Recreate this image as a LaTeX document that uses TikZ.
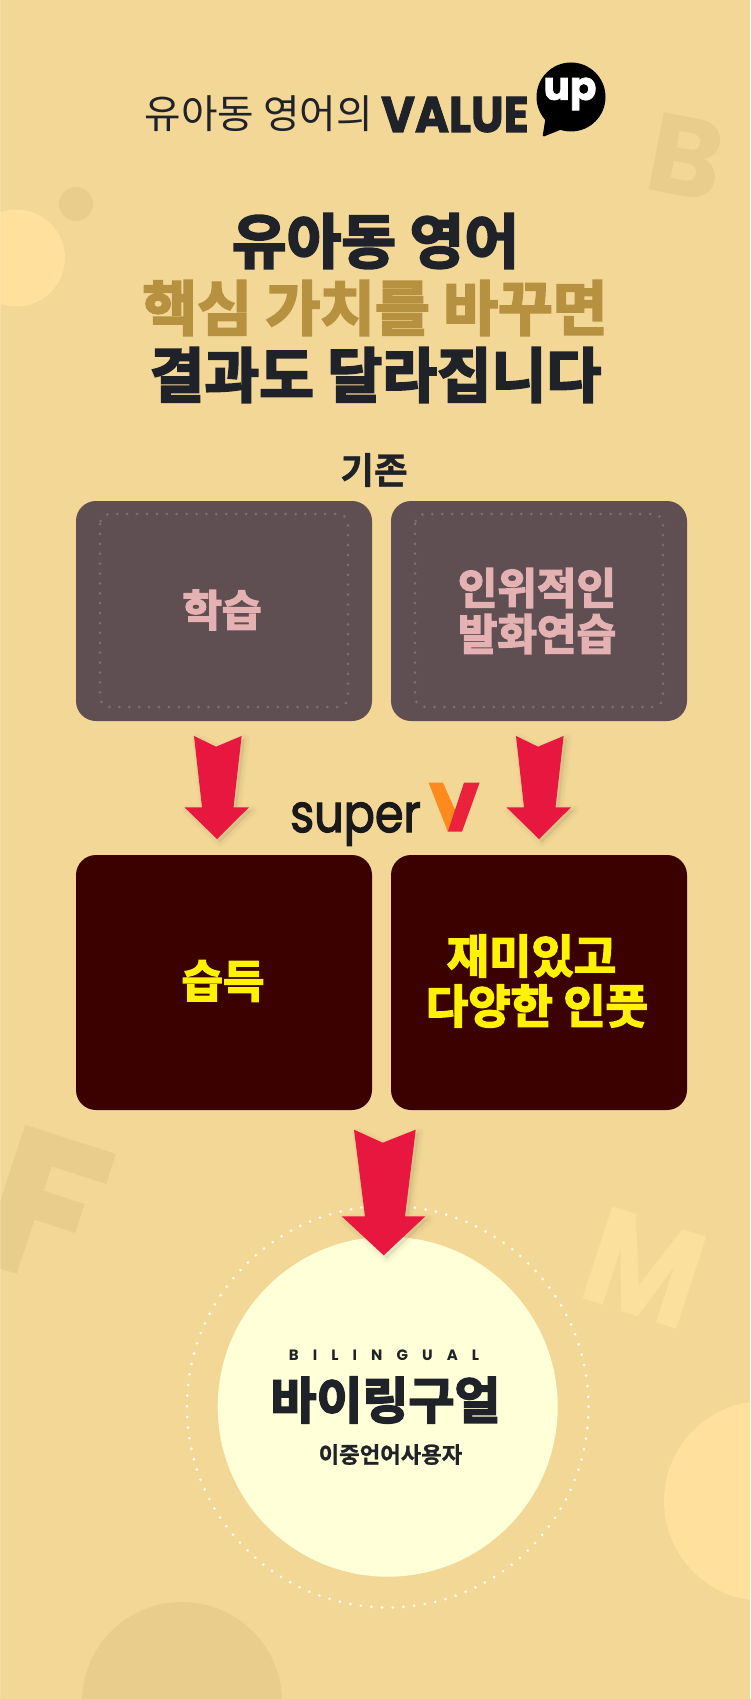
\documentclass[tikz,border=0pt]{standalone}
\usepackage{fontspec}
\setmainfont{Noto Sans CJK KR}
\newfontfamily\krreg{Noto Sans CJK KR}
\newfontfamily\krbold{Noto Sans CJK KR Bold}[FakeBold=3.5]
\newfontfamily\krmed{Noto Sans CJK KR Bold}[FakeBold=1]
\newfontfamily\popb{Poppins Bold}
\newfontfamily\popbb{Poppins Bold}[FakeBold=2]
\newfontfamily\popr{Poppins}[FakeBold=2.5]
\newfontfamily\popspaced{Poppins Bold}[LetterSpace=94]
\newcommand{\fsz}[1]{\fontsize{#1}{#1}\selectfont}
\definecolor{bgc}{HTML}{F3D797}
\definecolor{lightc}{HTML}{FFE09C}
\definecolor{mlightc}{HTML}{FBDF9C}
\definecolor{decoc}{HTML}{E8CD8C}
\definecolor{inkc}{HTML}{202229}
\definecolor{goldc}{HTML}{B59140}
\definecolor{greybox}{HTML}{5F4E52}
\definecolor{greydot}{HTML}{7E6E71}
\definecolor{darkbox}{HTML}{3B0000}
\definecolor{pinkc}{HTML}{E5B2B4}
\definecolor{redc}{HTML}{E8173F}
\definecolor{creamc}{HTML}{FFFFD8}
\definecolor{orangec}{HTML}{FC8A1E}
\newcommand{\smallpoly}{(-23,-103)--(-1,-92.3)--(24.6,-103)--(16.5,-31.7)--(32,-31.7)--(0,0)--(-32.5,-31.7)--(-15,-31.7)--cycle}
\newcommand{\bigpoly}{(-29.7,-125.6)--(-1,-112.6)--(32,-125.6)--(21.3,-39)--(41.6,-39)--(0,0)--(-42,-39)--(-18.7,-39)--cycle}
\tikzset{
  x=1pt,y=-1pt,
  boxshape/.style={rectangle,rounded corners=20pt,minimum width=296pt,inner sep=0pt,align=center},
  oldbox/.style={boxshape,fill=greybox,minimum height=220pt},
  newbox/.style={boxshape,fill=darkbox,minimum height=255pt},
  headline/.style={inner sep=0pt,font=\krbold\fsz{59.5}},
  insetdots/.style={greydot,line width=3pt,line cap=round,dash pattern=on 0pt off 9.9pt,rounded corners=10pt},
  softshade/.style={draw=black!70!bgc,fill=black!70!bgc,opacity=.018,line join=round,xshift=3pt,yshift=-3pt,line width=#1},
  smallarrow/.pic={\foreach \w in {11,8,5,2}{\path[softshade=\w pt] \smallpoly;}\fill[redc] \smallpoly;},
  bigarrow/.pic={\foreach \w in {11,8,5,2}{\path[softshade=\w pt] \bigpoly;}\fill[redc] \bigpoly;},
}
\begin{document}
\begin{tikzpicture}
\useasboundingbox (0,0) rectangle (750,1699);
\clip (0,0) rectangle (750,1699);
\fill[bgc] (0,0) rectangle (750,1699);
% decoration
\fill[lightc] (16.5,258) circle[radius=48.5];
\fill[decoc] (76,204) circle[radius=17];
\fill[decoc] (182,1702) circle[radius=100];
\fill[lightc] (764,1501) circle[radius=100];
\node (letterB) [rotate=-11,text=decoc,inner sep=0pt,font=\popb\fsz{112}] at (686,157) {B};
\node (letterF) [rotate=-18,text=decoc,inner sep=0pt,font=\popbb\fsz{200}] at (45,1207) {F};
\node (letterM) [rotate=-18,xscale=.9,text=mlightc,inner sep=0pt,font=\popb\fsz{138}] at (645,1268) {M};
% heading
\node (kicker) [anchor=base west,inner sep=0pt,text=inkc,font=\krreg\fsz{39.7}] at (144.5,129) {유아동 영어의};
\node (value) [anchor=base west,inner sep=0pt,text=inkc,font=\popbb\fsz{50},xscale=.925] at (381,132) {VALUE};
\fill[black] (571,97) circle[radius=34.5];
\fill[black,rounded corners=1.5pt] (546,115) -- (542.5,137) -- (565,128) -- cycle;
\node (up) [text=white,inner sep=0pt,font=\popbb\fsz{39}] at (570,94) {up};
\node (h1) [headline,text=inkc] at (375.5,241) {유아동 영어};
\node (h2) [headline,text=goldc] at (375,308) {핵심 가치를 바꾸면};
\node (h3) [headline,text=inkc] at (375.5,375) {결과도 달라집니다};
\node (old) [inner sep=0pt,text=inkc,font=\krmed\fsz{36.5}] at (374,470) {기존};
% boxes
\node (boxA) [oldbox] at (224,611) {};
\node (boxB) [oldbox] at (539,611) {};
\draw[insetdots] (100,514) rectangle (348,707);
\draw[insetdots] (415,514) rectangle (663,707);
\node (labA) [inner sep=0pt,text=pinkc,font=\krbold\fsz{43}] at (222,610) {학습};
\node (labB) [inner sep=0pt,text=pinkc,font=\krbold\fsz{43},align=center] at (537,611) {인위적인\\[3pt]발화연습};
\node (boxC) [newbox] at (224,982.5) {};
\node (boxD) [newbox] at (539,982.5) {};
\node (labC) [inner sep=0pt,text=yellow,font=\krbold\fsz{45}] at (223,981) {습득};
\node (labD1) [inner sep=0pt,text=yellow,font=\krbold\fsz{46}] at (531.5,956) {재미있고};
\node (labD2) [inner sep=0pt,text=yellow,font=\krbold\fsz{46}] at (537,1006) {다양한 인풋};
% logo
\node (super) [anchor=base west,inner sep=0pt,text=black!90,font=\popr\fsz{53},xscale=.87] at (290,832) {super};
\fill[orangec] (428.6,782.7)--(443,782.7)--(456,812)--(447.8,831.7)--cycle;
\fill[redc!90!orangec] (464,782.7)--(479.6,782.7)--(462,831.7)--(447.8,831.7)--cycle;
% arrows
\coordinate (tipA) at (217,839);
\coordinate (tipB) at (539,839);
\coordinate (tipC) at (383.7,1255.3);
% result
\draw[white!90!bgc,line width=3pt,line cap=round,dash pattern=on 0pt off 10.7pt] (387.7,1406.7) circle[radius=200.8];
\node (result) [circle,fill=creamc,minimum size=340pt,inner sep=0pt] at (387.7,1406.7) {};
\pic at (tipA) {smallarrow};
\pic at (tipB) {smallarrow};
\pic at (tipC) {bigarrow};
\node (bil) [inner sep=0pt,text=inkc,font=\popspaced\fsz{15}] at (384,1355) {BILINGUAL};
\node (res1) [inner sep=0pt,text=inkc,font=\krbold\fsz{50}] at (385.5,1400) {바이링구얼};
\node (res2) [inner sep=0pt,text=inkc,font=\krmed\fsz{22.3}] at (390.5,1454.5) {이중언어사용자};
\fill[white,opacity=.18] (0,0) rectangle (1.2,1699);
\end{tikzpicture}
\end{document}
